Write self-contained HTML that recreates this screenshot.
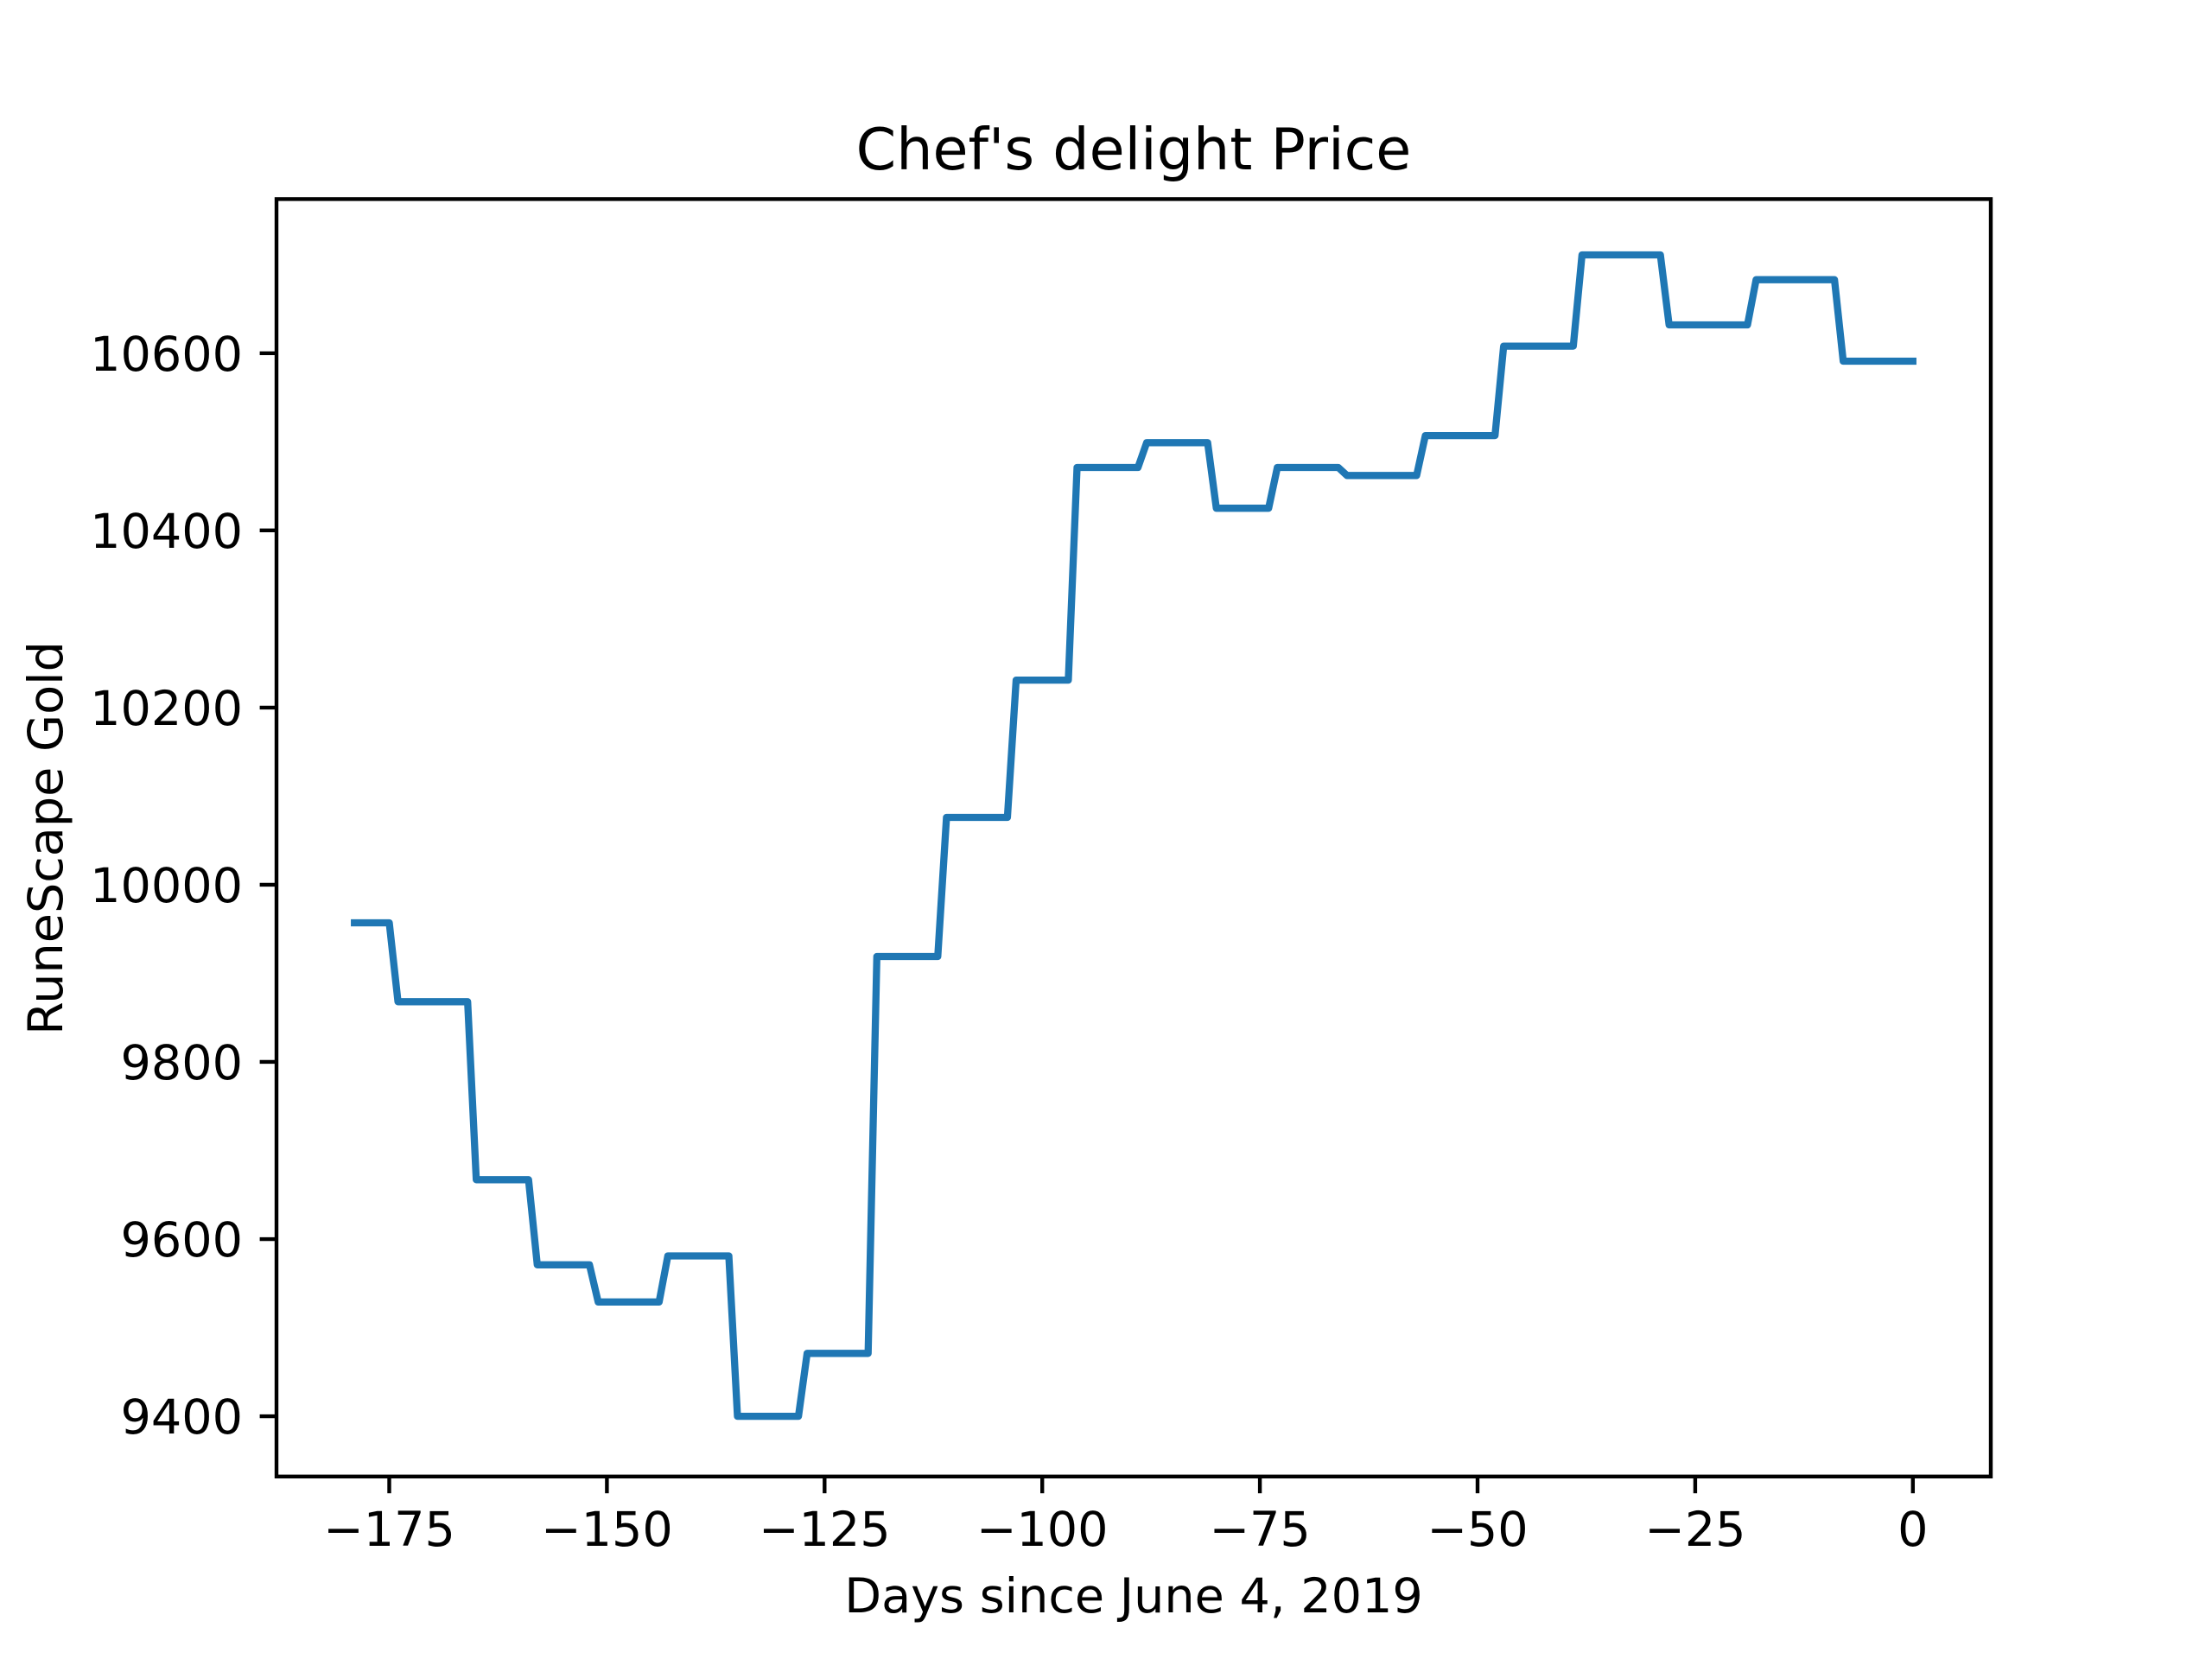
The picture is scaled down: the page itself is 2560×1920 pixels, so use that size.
<!DOCTYPE html>
<html><head><meta charset="utf-8"><style>
html,body{margin:0;padding:0;background:#fff;}
svg{display:block;}
text{font-family:"DejaVu Sans","Liberation Sans",sans-serif;fill:#000;}
</style></head><body>
<svg id="chart" width="2560" height="1920" viewBox="0 0 2560 1920" xmlns="http://www.w3.org/2000/svg">
<rect width="2560" height="1920" fill="#fff"/>
<text x="1312" y="196" font-size="66.7" text-anchor="middle">Chef's delight Price</text>
<g id="plot"></g>
<rect x="320" y="230.4" width="1984" height="1478.4" fill="none" stroke="#000" stroke-width="4.4"/>
<text x="1312" y="1866" font-size="55.6" text-anchor="middle">Days since June 4, 2019</text>
<text transform="translate(72,970) rotate(-90)" font-size="55.6" text-anchor="middle">RuneScape Gold</text>
</svg>
<script>
const days = [-179,-175,-174,-166,-165,-159,-158,-152,-151,-144,-143,-136,-135,-128,-127,-120,-119,-112,-111,-104,-103,-97,-96,-89,-88,-81,-80,-74,-73,-66,-65,-57,-56,-48,-47,-39,-38,-29,-28,-19,-18,-9,-8,0];
const prices = [9957,9957,9868,9868,9667,9667,9571,9571,9529,9529,9581,9581,9400,9400,9471,9471,9919,9919,10076,10076,10231,10231,10471,10471,10499,10499,10425,10425,10471,10471,10462,10462,10507,10507,10608,10608,10711,10711,10632,10632,10683,10683,10591,10591];
const xTicks = [-175,-150,-125,-100,-75,-50,-25,0];
const yTicks = [9400,9600,9800,10000,10200,10400,10600];

const X0=320,X1=2304,Y0=1708.8,Y1=230.4;
const xmin=-187.95,xmax=8.95,ymin=9332,ymax=10774;
function sx(v){return X0+(v-xmin)/(xmax-xmin)*(X1-X0);}
function sy(v){return Y0-(v-ymin)/(ymax-ymin)*(Y0-Y1);}
const NS="http://www.w3.org/2000/svg";
const g=document.getElementById('plot');
function mk(tag,attrs){const e=document.createElementNS(NS,tag);for(const k in attrs)e.setAttribute(k,attrs[k]);g.appendChild(e);return e;}

xTicks.forEach(t=>{
  const x=sx(t);
  const l=mk('line',{x1:x,x2:x,y1:Y0,y2:Y0+19.4,stroke:'#000','stroke-width':4.4});
  
  
  const tx=mk('text',{x:x,y:1789,'font-size':55.6,'text-anchor':'middle'});
  tx.textContent=t<0?'\u2212'+Math.abs(t):String(t);
  
  
});
yTicks.forEach(t=>{
  const y=sy(t);
  const l=mk('line',{x1:X0-19.4,x2:X0,y1:y,y2:y,stroke:'#000','stroke-width':4.4});
  
  
  const tx=mk('text',{x:281,y:y+20,'font-size':55.6,'text-anchor':'end'});
  tx.textContent=String(t);
  
  
});
const pts=days.map((d,i)=>sx(d).toFixed(1)+','+sy(prices[i]).toFixed(1)).join(' ');
const line=mk('polyline',{points:pts,fill:'none',stroke:'#1f77b4','stroke-width':8.3,'stroke-linejoin':'round','stroke-linecap':'square'});


</script>
</body></html>
